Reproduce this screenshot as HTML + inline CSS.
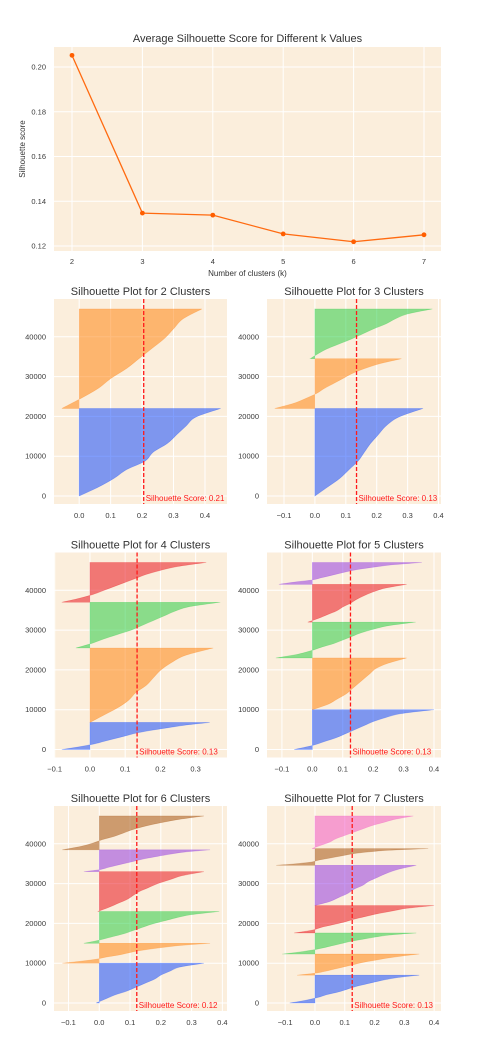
<!DOCTYPE html>
<html><head><meta charset="utf-8">
<style>
html,body{margin:0;padding:0;background:#fff;}
svg{display:block;font-family:"Liberation Sans",Arial,sans-serif;}
</style></head>
<body>
<svg id="fig" width="489" height="1039" viewBox="0 0 489 1039"></svg>
<script>
// ---------- top chart data ----------
const kValues = [2,3,4,5,6,7];
const avgScores = [0.2052,0.1347,0.1338,0.1254,0.1219,0.1250];
const topYTicks = [0.12,0.14,0.16,0.18,0.20];

// ---------- silhouette data (values sampled at 11 evenly spaced positions within each cluster, bottom->top) ----------
const panelKs = [2,3,4,5,6,7];
const panelScores = [0.21,0.13,0.13,0.13,0.12,0.13];
const panelAvgLines = [0.2052,0.1347,0.1338,0.1254,0.1219,0.1250];
const clusterBounds = [
  [[0,22000],[22000,47000]],
  [[0,22000],[22000,34500],[34500,47000]],
  [[0,6800],[6800,25500],[25500,37000],[37000,47000]],
  [[0,10000],[10000,23000],[23000,32000],[32000,41500],[41500,47000]],
  [[0,10000],[10000,15000],[15000,23000],[23000,33000],[33000,38500],[38500,47000]],
  [[0,7000],[7000,12300],[12300,17600],[17600,24500],[24500,34600],[34600,38800],[38800,47000]]
];
const clusterValues = [
  [[0.0,0.06,0.11,0.15,0.21,0.235,0.28,0.31,0.34,0.37,0.45],
   [-0.055,0.005,0.06,0.10,0.15,0.19,0.23,0.27,0.30,0.33,0.39]],
  [[0.0,0.04,0.08,0.11,0.14,0.16,0.18,0.205,0.23,0.27,0.35],
   [-0.13,-0.07,-0.03,0.005,0.03,0.06,0.09,0.12,0.16,0.21,0.28],
   [-0.015,0.01,0.04,0.08,0.12,0.155,0.19,0.23,0.26,0.30,0.38]],
  [[-0.08,-0.03,0.01,0.04,0.07,0.10,0.13,0.17,0.22,0.27,0.34],
   [0.0,0.04,0.08,0.11,0.13,0.16,0.18,0.20,0.23,0.27,0.35],
   [-0.04,0.005,0.04,0.08,0.12,0.15,0.18,0.21,0.24,0.28,0.37],
   [-0.08,-0.03,0.01,0.04,0.07,0.10,0.13,0.16,0.20,0.25,0.33]],
  [[-0.06,0.0,0.04,0.08,0.11,0.14,0.17,0.20,0.24,0.29,0.40],
   [0.0,0.05,0.08,0.11,0.13,0.15,0.17,0.19,0.21,0.25,0.31],
   [-0.12,-0.05,-0.005,0.03,0.07,0.10,0.13,0.16,0.20,0.25,0.34],
   [-0.015,0.02,0.05,0.08,0.10,0.125,0.145,0.17,0.20,0.24,0.31],
   [-0.11,-0.06,0.0,0.03,0.06,0.09,0.12,0.16,0.21,0.27,0.36]],
  [[-0.01,0.02,0.05,0.09,0.12,0.15,0.18,0.20,0.23,0.26,0.34],
   [-0.12,-0.06,-0.01,0.02,0.06,0.09,0.12,0.16,0.21,0.27,0.36],
   [-0.05,0.0,0.04,0.08,0.11,0.14,0.17,0.21,0.25,0.30,0.39],
   [-0.005,0.03,0.06,0.09,0.11,0.13,0.16,0.19,0.23,0.27,0.34],
   [-0.05,0.005,0.03,0.06,0.09,0.12,0.15,0.19,0.23,0.28,0.36],
   [-0.12,-0.06,-0.02,0.01,0.05,0.08,0.11,0.15,0.20,0.26,0.34]],
  [[-0.085,-0.03,0.01,0.04,0.08,0.11,0.14,0.18,0.22,0.27,0.35],
   [-0.06,0.005,0.04,0.07,0.10,0.13,0.16,0.20,0.24,0.29,0.35],
   [-0.11,-0.05,-0.005,0.03,0.06,0.09,0.12,0.16,0.20,0.25,0.34],
   [-0.07,-0.01,0.02,0.06,0.10,0.13,0.17,0.21,0.26,0.31,0.40],
   [0.0,0.05,0.08,0.11,0.13,0.16,0.18,0.21,0.24,0.28,0.34],
   [-0.13,-0.06,-0.01,0.01,0.04,0.07,0.10,0.13,0.18,0.25,0.38],
   [-0.01,0.02,0.05,0.07,0.10,0.13,0.16,0.19,0.23,0.27,0.33]]
];
const xTickSets = [
  [0.0,0.1,0.2,0.3,0.4],
  [-0.1,0.0,0.1,0.2,0.3,0.4],
  [-0.1,0.0,0.1,0.2,0.3],
  [-0.1,0.0,0.1,0.2,0.3,0.4],
  [-0.1,0.0,0.1,0.2,0.3,0.4],
  [-0.1,0.0,0.1,0.2,0.3,0.4]
];
const yTicksSil = [0,10000,20000,30000,40000];
const xDomains = [[-0.08,0.47],[-0.155,0.408],[-0.102,0.389],[-0.149,0.423],[-0.147,0.415],[-0.161,0.423]];
const palette = ["#023eff","#ff7c00","#1ac938","#e8000b","#8b2be2","#9f4800","#f14cc1"];

const NS="http://www.w3.org/2000/svg";
const svg=document.getElementById('fig');
function mk(tag,attrs,parent){const e=document.createElementNS(NS,tag);for(const k in attrs)e.setAttribute(k,attrs[k]);(parent||svg).appendChild(e);return e;}
const BG="#fbeedc", TXT="#3a3a3a";

// ---------- top chart ----------
(function(){
  const L=54,R=441,T=47,B=251;
  const xs=k=>72+(k-2)*(424-72)/5;
  const ys=v=>67+(0.20-v)*(246-67)/0.08;
  const g=mk('g',{});
  
  
  const bg=mk('rect',{x:L,y:T,width:R-L,height:B-T,fill:BG},g);
  
  
  kValues.forEach(k=>{
    const l=mk('line',{x1:xs(k),x2:xs(k),y1:T,y2:B,stroke:"#fff","stroke-width":1},g);
    
    
    const t=mk('text',{x:xs(k),y:B+13,"font-size":7.5,fill:TXT,"text-anchor":"middle"},g);t.textContent=k;
    
    
  });
  topYTicks.forEach(v=>{
    const l=mk('line',{x1:L,x2:R,y1:ys(v),y2:ys(v),stroke:"#fff","stroke-width":1},g);
    
    
    const t=mk('text',{x:L-8,y:ys(v)+2.5,"font-size":7.5,fill:TXT,"text-anchor":"end"},g);t.textContent=v.toFixed(2);
    
    
  });
  const pts=kValues.map((k,i)=>xs(k)+","+ys(avgScores[i])).join(" ");
  const pl=mk('polyline',{points:pts,fill:"none",stroke:"#ff6a10","stroke-width":1.3},g);
  
  
  kValues.forEach((k,i)=>{
    const c=mk('circle',{cx:xs(k),cy:ys(avgScores[i]),r:2.4,fill:"#ff5e00"},g);
    
    
  });
  const tt=mk('text',{x:(L+R)/2,y:42,"font-size":11,fill:"#333","text-anchor":"middle"},g);
  tt.textContent="Average Silhouette Score for Different k Values";
  
  
  const xl=mk('text',{x:(L+R)/2,y:276,"font-size":8,fill:"#333","text-anchor":"middle"},g);
  xl.textContent="Number of clusters (k)";
  
  
  const yl=mk('text',{x:0,y:0,"font-size":8,fill:"#333","text-anchor":"middle",transform:"translate(25,"+((T+B)/2)+") rotate(-90)"},g);
  yl.textContent="Silhouette score";
  
  
})();

function smoothPath(pts){
  let d="";
  for(let i=0;i<pts.length-1;i++){
    const p0=pts[Math.max(0,i-1)],p1=pts[i],p2=pts[i+1],p3=pts[Math.min(pts.length-1,i+2)];
    const c1x=p1[0]+(p2[0]-p0[0])/6,c1y=p1[1]+(p2[1]-p0[1])/6;
    const c2x=p2[0]-(p3[0]-p1[0])/6,c2y=p2[1]-(p3[1]-p1[1])/6;
    d+=" C"+c1x.toFixed(2)+","+c1y.toFixed(2)+" "+c2x.toFixed(2)+","+c2y.toFixed(2)+" "+p2[0].toFixed(2)+","+p2[1].toFixed(2);
  }
  return d;
}

// ---------- silhouette panels ----------
panelKs.forEach((k,p)=>{
  const col=p%2,row=Math.floor(p/2);
  const L=col?267:54, R=col?441:227;
  const T=299+row*253.5, B=504+row*253.5, Y0=496+row*253.5;
  const [d0,d1]=xDomains[p];
  const xs=v=>L+(v-d0)/(d1-d0)*(R-L);
  const ys=v=>Y0-v*3.98/1000;
  const g=mk('g',{});
  
  
  const bg=mk('rect',{x:L,y:T,width:R-L,height:B-T,fill:BG},g);
  
  
  xTickSets[p].forEach(v=>{
    const l=mk('line',{x1:xs(v),x2:xs(v),y1:T,y2:B,stroke:"#fff","stroke-width":1},g);
    
    
    const t=mk('text',{x:xs(v),y:B+14,"font-size":7.5,fill:TXT,"text-anchor":"middle"},g);
    t.textContent=(v<0?"\u2212"+Math.abs(v).toFixed(1):v.toFixed(1));
    
    
  });
  yTicksSil.forEach(v=>{
    const l=mk('line',{x1:L,x2:R,y1:ys(v),y2:ys(v),stroke:"#fff","stroke-width":1},g);
    
    
    const t=mk('text',{x:L-8,y:ys(v)+2.5,"font-size":7.5,fill:TXT,"text-anchor":"end"},g);t.textContent=v;
    
    
  });
  clusterBounds[p].forEach((b,c)=>{
    const vals=clusterValues[p][c];
    const pts=vals.map((v,i)=>[xs(v),ys(b[0]+(b[1]-b[0])*i/(vals.length-1))]);
    let d="M"+xs(0)+","+ys(b[0])+" L"+pts[0][0].toFixed(2)+","+pts[0][1].toFixed(2);
    d+=smoothPath(pts);
    d+=" L"+xs(0)+","+ys(b[1])+" Z";
    const path=mk('path',{d:d,fill:palette[c],"fill-opacity":0.5,stroke:palette[c],"stroke-opacity":0.3,"stroke-width":0.6},g);
    
    
  });
  const ax=xs(panelAvgLines[p]);
  const dl=mk('line',{x1:ax,x2:ax,y1:T,y2:B,stroke:"#ff1a1a","stroke-width":1.3,"stroke-dasharray":"4,2"},g);
  
  
  const st=mk('text',{x:ax+2,y:Y0+5,"font-size":8,fill:"#ff1a1a"},g);
  st.textContent="Silhouette Score: "+panelScores[p].toFixed(2);
  
  
  const tt=mk('text',{x:(L+R)/2,y:T-4,"font-size":11,fill:"#333","text-anchor":"middle"},g);
  tt.textContent="Silhouette Plot for "+k+" Clusters";
  
  
});
</script>
</body></html>
